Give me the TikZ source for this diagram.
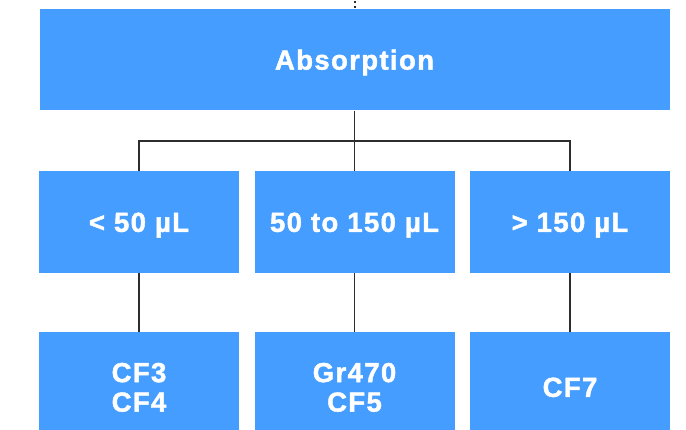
\documentclass[tikz,border=0pt]{standalone}
\usepackage{fontspec}
\newfontfamily\boxfont{Liberation Sans Bold}[LetterSpace=5, FakeBold=1.6]
\definecolor{boxblue}{RGB}{68,157,255}
\definecolor{linkgray}{RGB}{45,45,45}
\tikzset{
  box/.style={fill=boxblue, draw=none, text=white, font=\boxfont\fontsize{27.5}{29.5}\selectfont,
    align=center, inner sep=0pt, anchor=center, text height=19.7pt, text depth=0pt},
  twolines/.style={text height=49.2pt},
  link/.style={draw=linkgray, line width=1.1pt}
}
\begin{document}
\begin{tikzpicture}[x=1pt,y=-1pt]
\useasboundingbox (0,0) rectangle (686,430);
\clip (0,0) rectangle (686,430);
% root box and its incoming dotted link
\node[box, minimum width=630pt, minimum height=101.5pt] (root) at (354.5,59.75) {Absorption};
\coordinate (above) at (354.5,0.7);
\draw[linkgray, line width=2pt, dash pattern=on 2pt off 3.6pt] (above) -- (root.north);
% volume ranges
\node[box, minimum width=200pt, minimum height=102pt] (low) at (139,222) {< 50 µL};
\node[box, minimum width=200pt, minimum height=102pt] (mid) at (354.5,222) {50 to 150 µL};
\node[box, minimum width=200pt, minimum height=102pt] (high) at (570,222) {> 150 µL};
% recommended models
\node[box, twolines, minimum width=200pt, minimum height=110pt] (lowm) at (139,387) {CF3\\CF4};
\node[box, twolines, minimum width=200pt, minimum height=110pt] (midm) at (354.5,387) {Gr470\\CF5};
\node[box, minimum width=200pt, minimum height=110pt] (highm) at (570,387) {CF7};
% tree connectors
\coordinate (fork) at (354.5,141);
\draw[link] (root.south) -- (fork);
\draw[link] (low.north) |- (fork);
\draw[link] (high.north) |- (fork);
\draw[link] (fork) -- (mid.north);
\draw[link] (low.south) -- (lowm.north);
\draw[link] (mid.south) -- (midm.north);
\draw[link] (high.south) -- (highm.north);
\end{tikzpicture}
\end{document}
